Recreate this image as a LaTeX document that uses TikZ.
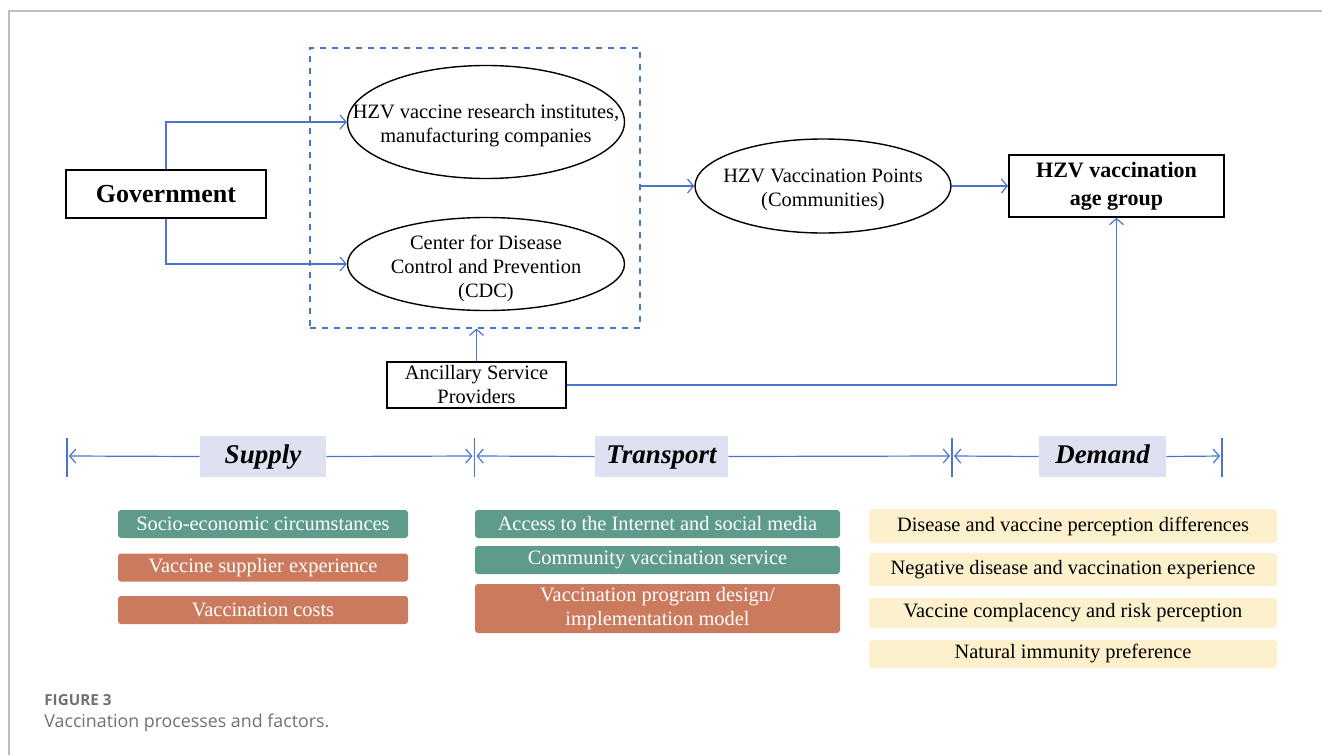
\documentclass[tikz,border=0pt]{standalone}
\usepackage{fontspec}
\setmainfont{Liberation Serif}
\newfontfamily\capfont{Open Sans}
\usepackage{tikz}
\usetikzlibrary{arrows.meta}
\usetikzlibrary{shapes.geometric}
\usetikzlibrary{calc}
\usepackage{color}
\definecolor{linkblue}{RGB}{74, 116, 208}
\definecolor{tealgreen}{RGB}{94, 155, 139}
\definecolor{terracotta}{RGB}{204, 122, 94}
\definecolor{cream}{RGB}{253, 240, 205}
\definecolor{lavender}{RGB}{222, 225, 242}
\definecolor{framegray}{RGB}{190, 190, 190}
\definecolor{captiongray}{RGB}{112, 112, 112}

\tikzset{
    txt/.style      = {font=\fontsize{10.2}{12}\selectfont, align=center, inner sep=0pt},
    ovaltxt/.style  = {txt, yshift=-2pt},
    actor/.style    = {draw, line width=0.9pt, inner sep=0pt, align=center},
    oval/.style     = {ellipse, draw, line width=0.7pt, inner sep=0pt},
    flow/.style     = {draw=linkblue, line width=0.6pt, -{Straight Barb[length=3pt, width=7pt]}},
    stage/.style    = {fill=lavender, inner sep=0pt, minimum height=20.5pt,
                       text height=9.5pt, text depth=3pt,
                       font=\fontsize{13.5}{14}\selectfont\bfseries\itshape},
    factor/.style   = {rounded corners=1.5pt, txt, minimum height=14pt},
    supply/.style   = {factor, fill=tealgreen, text=white},
    cost/.style     = {factor, fill=terracotta, text=white},
    belief/.style   = {factor, fill=cream, text=black},
}

\begin{document}
\begin{tikzpicture}[x=50pt, y=-50pt]
            \useasboundingbox (0.00, 0.00) rectangle (13.22, 7.55);
            % Frame
            \draw[color=framegray, line width=0.8pt]                         (0.09, 7.55) |- (13.22, 0.11);

            % Actors
            \node[actor, minimum width=100pt, minimum height=24pt,
                  font=\fontsize{13}{14}\selectfont\bfseries]          (gov) at ( 1.66, 1.94) {Government};
            \node[draw=linkblue, dashed, line width=0.6pt,
                  minimum width=165pt, minimum height=140pt]            (grp) at ( 4.75, 1.88) {};
            \node[oval, minimum width=138.5pt, minimum height=56.5pt,
                  label={[ovaltxt]center:HZV vaccine research institutes,\\manufacturing companies}] (ell1) at ( 4.86, 1.22) {};
            \node[oval, minimum width=138.5pt, minimum height=46.5pt,
                  label={[ovaltxt]center:Center for Disease\\Control and Prevention\\(CDC)}]       (ell2) at ( 4.86, 2.64) {};
            \node[oval, minimum width=128pt, minimum height=47pt,
                  label={[ovaltxt]center:HZV Vaccination Points\\(Communities)}]                  (ell3) at ( 8.23, 1.86) {};
            \node[actor, minimum width=107.5pt, minimum height=31pt,
                  font=\fontsize{11}{14}\selectfont\bfseries]           (age) at (11.165, 1.86)
                 {HZV vaccination\\age group};
            \node[actor, txt, minimum width=89.5pt, minimum height=23pt] (anc) at ( 4.765, 3.85)
                 {Ancillary Service\\Providers};

            % Connectors
            \draw[flow] (gov.north) |- (ell1.west);
            \draw[flow] (gov.south) |- (ell2.west);
            \draw[flow] (grp.east |- ell3.west) -- (ell3.west);
            \draw[flow] (ell3.east) -- (age.west);
            \draw[flow] (anc.north) -- (anc.north |- grp.south);
            \draw[flow] (anc.east) -| (age.south);

            % Stage bar
            \foreach \tx/\tn in {0.67/t1, 4.745/t2, 9.52/t3, 12.22/t4} {
                \coordinate (\tn) at (\tx, 4.56);
                \draw[color=linkblue, line width=0.6pt] (\tx, 4.38) -- (\tx, 4.77);
            }
            \node[stage, minimum width=63pt]   (sup) at ( 2.63, 4.565) {Supply};
            \node[stage, minimum width=66.5pt] (trn) at ( 6.615, 4.565) {Transport};
            \node[stage, minimum width=63.5pt] (dem) at (11.025, 4.565) {Demand};
            \draw[flow, shorten >=1pt] (sup.west) -- (t1);
            \draw[flow, shorten >=1pt] (sup.east) -- (t2);
            \draw[flow, shorten >=1pt] (trn.west) -- (t2);
            \draw[flow, shorten >=1pt] (trn.east) -- (t3);
            \draw[flow, shorten >=1pt] (dem.west) -- (t3);
            \draw[flow, shorten >=1pt] (dem.east) -- (t4);

            % Supply factors
            \node[supply, minimum width=145pt] (s1) at ( 2.63, 5.24)  {Socio-economic circumstances};
            \node[cost,   minimum width=145pt] (s2) at ( 2.63, 5.675) {Vaccine supplier experience};
            \node[cost,   minimum width=145pt] (s3) at ( 2.63, 6.10)  {Vaccination costs};
            % Transport factors
            \node[supply, minimum width=182.5pt] (r1) at ( 6.575, 5.24) {Access to the Internet and social media};
            \node[supply, minimum width=182.5pt] (r2) at ( 6.575, 5.60) {Community vaccination service};
            \node[cost,   minimum width=182.5pt, minimum height=24.5pt] (r3) at ( 6.575, 6.085)
                 {Vaccination program design/\\implementation model};
            % Demand factors
            \node[belief, minimum width=204pt, minimum height=17pt]   (d1) at (10.73, 5.26)  {Disease and vaccine perception differences};
            \node[belief, minimum width=204pt, minimum height=16.5pt] (d2) at (10.73, 5.695) {Negative disease and vaccination experience};
            \node[belief, minimum width=204pt, minimum height=15pt]   (d3) at (10.73, 6.13)  {Vaccine complacency and risk perception};
            \node[belief, minimum width=204pt, minimum height=14pt]   (d4) at (10.73, 6.54)  {Natural immunity preference};

            % Caption
            \node[anchor=west, inner sep=0pt, color=captiongray,
                  font=\capfont\fontsize{7.6}{9}\selectfont\bfseries]   (fig) at (0.44, 7.00) {FIGURE 3};
            \node[anchor=west, inner sep=0pt, color=captiongray,
                  font=\capfont\fontsize{8.9}{10}\selectfont]           (cap) at (0.44, 7.23) {Vaccination processes and factors.};
\end{tikzpicture}
\end{document}
